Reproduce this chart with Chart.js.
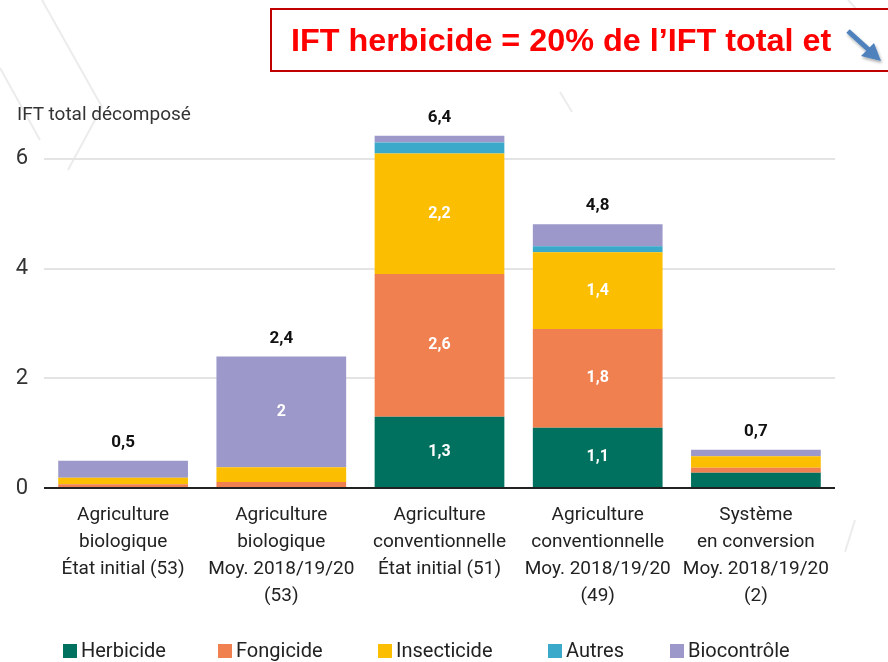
<!DOCTYPE html>
<html>
<head>
<meta charset="utf-8">
<script src="https://cdn.jsdelivr.net/npm/chart.js@4"></script>
<style>
    body { margin: 0; background: #fff; }
    #wrap { position: relative; width: 888px; height: 662px; overflow: hidden; }
    #deco { position: absolute; left: 0; top: 0; }
    #chart { position: absolute; left: 0; top: 0; }
    #banner {
        position: absolute; left: 270px; top: 8px; width: 640px; height: 60px;
        border: 2px solid #C00000; box-sizing: content-box; background: #fff;
        font-family: "Liberation Sans", sans-serif;
        font-weight: bold; font-size: 32px; color: #FF0000;
        line-height: 60px; white-space: nowrap;
    }
    #banner span { position: absolute; left: 19px; top: 0; transform-origin: 0 50%; }
    #arrow { position: absolute; left: 0; top: 0; }
    #yTitle {
        position: absolute; left: 17px; top: 102px;
        font-family: Roboto, sans-serif; font-size: 19px; color: #333;
    }
    #legend { position: absolute; left: 0; top: 638px; width: 888px; height: 24px;
        font-family: Roboto, sans-serif; font-size: 20px; color: #222; }
    #legend .item { position: absolute; top: 0; white-space: nowrap; line-height: 24px; }
    #legend .sw { display: inline-block; width: 14px; height: 14px; margin-right: 4px; vertical-align: -1px; }
</style>
</head>
<body>
<div id="wrap">
    <svg id="deco" width="888" height="662">
        <g stroke="#ececec" stroke-width="2" fill="none">
            <polyline points="42,0 102,107 68,170"/>
            <polyline points="0,68 40,140"/>
            <polyline points="848,0 885,40"/>
            <polyline points="560,92 572,112"/>
            <polyline points="855,520 845,552"/>
        </g>
    </svg>
    <canvas id="chart" width="888" height="662"></canvas>
    <div id="banner"><span id="bannerText">IFT herbicide = 20% de l’IFT total et</span></div>
    <svg id="arrow" width="888" height="100">
        <defs>
            <filter id="sh" x="-50%" y="-50%" width="200%" height="200%">
                <feDropShadow dx="1" dy="2" stdDeviation="1.5" flood-color="#000" flood-opacity="0.35"/>
            </filter>
        </defs>
        <g filter="url(#sh)">
            <line x1="848" y1="31" x2="869" y2="50" stroke="#4F81BD" stroke-width="5"/>
            <polygon points="881,61 861,56 874,43" fill="#4F81BD"/>
        </g>
    </svg>
    <div id="yTitle">IFT total décomposé</div>
    <div id="legend"></div>
</div>
<script>
const categories = [
    ['Agriculture', 'biologique', 'État initial (53)'],
    ['Agriculture', 'biologique', 'Moy. 2018/19/20', '(53)'],
    ['Agriculture', 'conventionnelle', 'État initial (51)'],
    ['Agriculture', 'conventionnelle', 'Moy. 2018/19/20', '(49)'],
    ['Système', 'en conversion', 'Moy. 2018/19/20', '(2)']
];

const herbicide   = [0.02, 0.02, 1.3, 1.1, 0.28];
const fongicide   = [0.05, 0.09, 2.6, 1.8, 0.09];
const insecticide = [0.12, 0.27, 2.2, 1.4, 0.21];
const autres      = [0.00, 0.00, 0.2, 0.11, 0.00];
const biocontrole = [0.31, 2.02, 0.12, 0.4, 0.12];

const yTicks = [0, 2, 4, 6];

const seriesNames = ['Herbicide', 'Fongicide', 'Insecticide', 'Autres', 'Biocontrôle'];
const seriesColors = ['#00705F', '#F0804F', '#FBBE00', '#3AA9CA', '#9C98CA'];
const seriesData = [herbicide, fongicide, insecticide, autres, biocontrole];
const legendLeft = [63, 218, 378, 548, 670];

// squeeze the banner text to the width of the original
const bt = document.getElementById('bannerText');
bt.style.transform = 'scaleX(' + (540 / bt.offsetWidth) + ')';

// legend
const legend = document.getElementById('legend');
seriesNames.forEach((name, i) => {
    const item = document.createElement('div');
    item.className = 'item';
    item.style.left = legendLeft[i] + 'px';
    item.innerHTML = `<span class="sw" style="background:${seriesColors[i]}"></span>${name}`;
    legend.appendChild(item);
});

function fmt(v) {
    return (Math.round(v * 10) / 10).toString().replace('.', ',');
}

// labels inside segments and totals above bars
const valueLabels = {
    id: 'valueLabels',
    afterDatasetsDraw(chart) {
        const ctx = chart.ctx;
        ctx.save();
        ctx.textAlign = 'center';
        ctx.textBaseline = 'middle';
        chart.data.datasets.forEach((ds, di) => {
            const meta = chart.getDatasetMeta(di);
            meta.data.forEach((bar, i) => {
                const v = ds.data[i];
                if (v >= 1) {
                    ctx.fillStyle = '#fff';
                    ctx.font = 'bold 16px Roboto';
                    ctx.fillText(fmt(v), bar.x, (bar.y + bar.base) / 2);
                }
            });
        });
        const last = chart.getDatasetMeta(chart.data.datasets.length - 1);
        last.data.forEach((bar, i) => {
            let total = 0;
            seriesData.forEach(s => total += s[i]);
            ctx.fillStyle = '#111';
            ctx.font = 'bold 17px Roboto';
            ctx.fillText(fmt(total), bar.x, bar.y - 18);
        });
        ctx.restore();
    }
};

Chart.defaults.font.family = 'Roboto';
Chart.defaults.color = '#222';

new Chart(document.getElementById('chart').getContext('2d'), {
    type: 'bar',
    data: {
        labels: categories,
        datasets: seriesData.map((d, i) => ({
            label: seriesNames[i],
            data: d,
            backgroundColor: seriesColors[i],
            borderWidth: 0,
            barPercentage: 0.82,
            categoryPercentage: 1
        }))
    },
    options: {
        responsive: false,
        animation: false,
        layout: { padding: { top: 126, right: 53, left: 0, bottom: 46 } },
        scales: {
            x: {
                stacked: true,
                grid: { display: false },
                border: { display: false },
                ticks: {
                    font: { size: 19, lineHeight: 1.42 },
                    color: '#222',
                    padding: 6,
                    maxRotation: 0,
                    autoSkip: false
                }
            },
            y: {
                stacked: true,
                min: 0,
                max: 6.6,
                afterBuildTicks(scale) {
                    scale.ticks = yTicks.map(v => ({ value: v }));
                },
                afterFit(scale) {
                    scale.width = 44;
                },
                border: { display: false },
                grid: {
                    color: c => c.tick && c.tick.value === 0 ? '#222' : '#e4e4e4',
                    lineWidth: 2,
                    drawTicks: false
                },
                ticks: {
                    font: { size: 22 },
                    color: '#333',
                    padding: 16,
                    callback: v => v
                }
            }
        },
        plugins: {
            legend: { display: false },
            tooltip: { enabled: false }
        }
    },
    plugins: [valueLabels]
});
</script>
</body>
</html>
